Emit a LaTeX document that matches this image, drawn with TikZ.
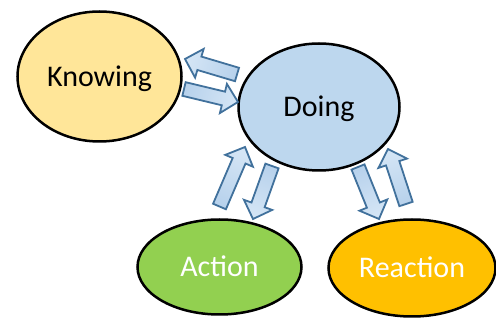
\documentclass[tikz,border=0pt]{standalone}
\usepackage{fontspec}
\setmainfont{Carlito}
\usetikzlibrary{shapes.geometric}
\definecolor{knowfill}{HTML}{FFE699}
\definecolor{dofill}{HTML}{BDD7EE}
\definecolor{actfill}{HTML}{92D050}
\definecolor{reactfill}{HTML}{FFC000}
\definecolor{arrowline}{HTML}{41719C}
\definecolor{arrowtail}{HTML}{B8D2EC}
\definecolor{arrowtip}{HTML}{D4E5F5}
\newcommand\blockarrow[4]{%
  \pgfmathsetmacro\baang{atan2(#2-#4,#3-#1)}%
  \pgfmathsetmacro\balen{veclen(#3-#1,#4-#2)}%
  \pgfmathsetmacro\bashade{\baang+90}%
  \begin{scope}[shift={(#1,-#2)},rotate=\baang]
    \draw[blockarrow,shading angle=\bashade] (0,-7) -- ({\balen-15},-7) -- ({\balen-15},-15) -- (\balen,0)
      -- ({\balen-15},15) -- ({\balen-15},7) -- (0,7) -- cycle;
  \end{scope}}
\tikzset{
  bubble/.style={ellipse,draw=black,line width=2.5pt,inner sep=0pt,
    font=\fontsize{30}{36}\selectfont,text height=20pt,text depth=0pt},
  blockarrow/.style={draw=arrowline,line width=1.8pt,line join=miter,
    top color=arrowtail,bottom color=arrowtip}
}
\begin{document}
\begin{tikzpicture}[x=1pt,y=1pt]
\useasboundingbox (0,0) rectangle (496,-320);
\node[bubble,fill=knowfill,minimum width=164pt,minimum height=130pt] (know) at (99.5,-76.5) {Knowing};
\node[bubble,fill=dofill,minimum width=161pt,minimum height=127pt] (do) at (319,-107) {Doing};
\node[bubble,fill=actfill,text=white,minimum width=164pt,minimum height=95pt] (act) at (219.5,-267) {Action};
\node[bubble,fill=reactfill,text=white,minimum width=167pt,minimum height=97pt] (react) at (412,-268) {Reaction};
\blockarrow{237}{74.5}{185}{59}
\blockarrow{184}{89}{238}{102}
\blockarrow{219.5}{206.5}{245}{147}
\blockarrow{272}{166}{253}{219}
\blockarrow{358}{167}{379}{219}
\blockarrow{406}{204}{388}{149}
\end{tikzpicture}
\end{document}
